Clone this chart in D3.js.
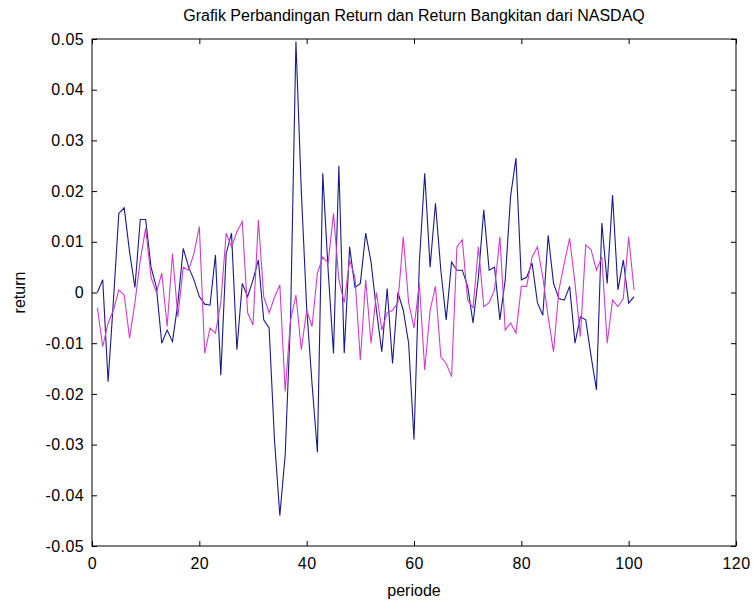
<!DOCTYPE html>
<html>
<head>
<meta charset="utf-8">
<script src="https://cdn.jsdelivr.net/npm/d3@7"></script>
<style>
	body { margin: 0; background: #fff; }
	text { font-family: "Liberation Sans", Arial, sans-serif; fill: #000; }
</style>
</head>
<body>
<div id="chart"></div>
<script>
// return NASDAQ (biru) dan return bangkitan (magenta), periode 1..101
let periode = d3.range(1, 102);
let returnAsli = [
	0.000, 0.0025, -0.0176, -0.0015, 0.0156, 0.0167, 0.008, 0.001, 0.0144, 0.0144,
	0.005, 0.001, -0.010, -0.0074, -0.0097, -0.0021, 0.0087, 0.005, 0.0025, -0.0008,
	-0.0023, -0.0025, 0.0074, -0.0163, 0.0077, 0.0117, -0.0113, 0.0018, -0.0008, 0.0025,
	0.0064, -0.0054, -0.007, -0.029, -0.044, -0.032, -0.005, 0.0495, 0.020, -0.003,
	-0.018, -0.0315, 0.0235, 0.0044, -0.012, 0.025, -0.012, 0.009, 0.001, 0.0018,
	0.0117, 0.006, -0.0035, -0.0117, 0.0008, -0.014, 0.000, -0.0035, -0.010, -0.029,
	0.006, 0.0235, 0.005, 0.0176, 0.0044, -0.0054, 0.006, 0.0044, 0.0044, 0.0012,
	-0.006, 0.003, 0.0163, 0.0044, 0.005, -0.0054, 0.0025, 0.019, 0.0265, 0.0025,
	0.003, 0.0058, -0.002, -0.0045, 0.0113, 0.0018, -0.0012, -0.0015, 0.0012, -0.010,
	-0.0048, -0.0054, -0.0126, -0.0192, 0.0137, 0.0018, 0.0192, 0.0005, 0.0064, -0.0021,
	-0.0008
];
let returnBangkitan = [
	-0.003, -0.0107, -0.006, -0.0035, 0.0005, -0.0005, -0.009, -0.002, 0.0064, 0.0127,
	0.003, 0.000, 0.0038, -0.0067, 0.0077, -0.0048, 0.005, 0.0044, 0.0077, 0.013,
	-0.012, -0.007, -0.008, -0.002, 0.0117, 0.009, 0.012, 0.014, -0.004, -0.0064,
	0.0143, -0.0008, -0.004, -0.001, 0.0015, -0.0195, -0.0054, -0.0005, -0.0113, -0.0035,
	-0.0067, 0.0038, 0.007, 0.0058, 0.0156, 0.0025, -0.002, 0.0064, 0.003, -0.0133,
	0.0025, -0.010, 0.000, -0.0074, -0.004, -0.0035, -0.002, 0.011, -0.002, -0.007,
	0.0018, -0.0153, -0.0035, 0.0012, -0.0127, -0.014, -0.0166, 0.009, 0.0104, -0.0015,
	-0.003, 0.009, -0.0028, -0.002, 0.0005, 0.011, -0.0074, -0.006, -0.008, 0.0012,
	0.0012, 0.007, 0.009, 0.003, -0.0048, -0.0117, 0.0005, 0.0058, 0.0107, 0.0018,
	-0.0087, 0.0094, 0.0084, 0.0044, 0.007, -0.010, -0.0015, -0.0028, -0.0012, 0.011,
	0.0005
];
let xTicks = [0, 20, 40, 60, 80, 100, 120];
let yTicks = [-0.05, -0.04, -0.03, -0.02, -0.01, 0, 0.01, 0.02, 0.03, 0.04, 0.05];

let width = 753;
let height = 601;
let margin = { top: 39, right: 17, bottom: 55, left: 92 };
let innerW = width - margin.left - margin.right;
let innerH = height - margin.top - margin.bottom;

let svg = d3.select('#chart').append('svg')
	.attr('width', width)
	.attr('height', height)
	.style('display', 'block');

svg.append('rect').attr('width', width).attr('height', height).attr('fill', '#fff');

let g = svg.append('g').attr('transform', 'translate(' + margin.left + ',' + margin.top + ')');

let x = d3.scaleLinear().domain([0, 120]).range([0, innerW]);
let y = d3.scaleLinear().domain([-0.05, 0.05]).range([innerH, 0]);

function fmtY(d) { return d === 0 ? '0' : d3.format('.2f')(d).replace('−', '-'); }

function styleAxis(sel) {
	sel.select('.domain').remove();
	sel.selectAll('.tick line').attr('stroke', '#000');
	sel.selectAll('.tick text')
		.style('font-size', '16px')
		.style('letter-spacing', '0.4px')
		.attr('fill', '#1a1a1a');
}

g.append('g')
	.attr('transform', 'translate(0,' + innerH + ')')
	.call(d3.axisBottom(x).tickValues(xTicks).tickSizeInner(-5).tickSizeOuter(0).tickPadding(12))
	.call(styleAxis);
g.append('g')
	.call(d3.axisTop(x).tickValues(xTicks).tickSizeInner(-5).tickSizeOuter(0).tickFormat(''))
	.call(styleAxis);
g.append('g')
	.call(d3.axisLeft(y).tickValues(yTicks).tickSizeInner(-5).tickSizeOuter(0).tickPadding(8).tickFormat(fmtY))
	.call(styleAxis);
g.append('g')
	.attr('transform', 'translate(' + innerW + ',0)')
	.call(d3.axisRight(y).tickValues(yTicks).tickSizeInner(-5).tickSizeOuter(0).tickFormat(''))
	.call(styleAxis);

let line = d3.line()
	.x(function(d) { return x(d[0]); })
	.y(function(d) { return y(d[1]); });

g.append('path')
	.datum(periode.map(function(p, i) { return [p, returnAsli[i]]; }))
	.attr('fill', 'none')
	.attr('stroke', '#1a1a8c')
	.attr('stroke-width', 1.1)
	.attr('d', line);

g.append('path')
	.datum(periode.map(function(p, i) { return [p, returnBangkitan[i]]; }))
	.attr('fill', 'none')
	.attr('stroke', '#d03cd0')
	.attr('stroke-width', 1.1)
	.attr('d', line);

// kotak sumbu
g.append('rect')
	.attr('width', innerW)
	.attr('height', innerH)
	.attr('fill', 'none')
	.attr('stroke', '#000')
	.attr('stroke-width', 1);

svg.append('text')
	.attr('x', margin.left + innerW / 2)
	.attr('y', 21)
	.attr('text-anchor', 'middle')
	.style('font-size', '16px')
	.text('Grafik Perbandingan Return dan Return Bangkitan dari NASDAQ');

svg.append('text')
	.attr('x', margin.left + innerW / 2)
	.attr('y', 596)
	.attr('text-anchor', 'middle')
	.style('font-size', '16px')
	.text('periode');

svg.append('text')
	.attr('transform', 'translate(25,' + (margin.top + innerH / 2) + ') rotate(-90)')
	.attr('text-anchor', 'middle')
	.style('font-size', '16px')
	.text('return');
</script>
</body>
</html>
